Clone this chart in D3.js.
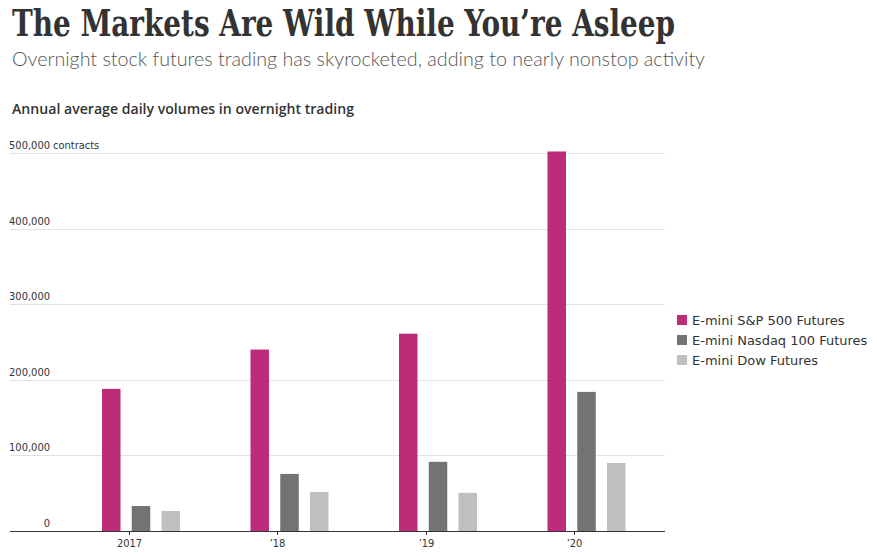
<!DOCTYPE html>
<html><head><meta charset="utf-8">
<script src="https://cdn.jsdelivr.net/npm/d3@7"></script>
<style>body{margin:0;background:#fff}svg{display:block}</style>
</head><body>
<svg id="c" width="877" height="556"></svg>
<script>
const years = ["2017", "’18", "’19", "’20"];
const seriesNames = ["E-mini S&P 500 Futures", "E-mini Nasdaq 100 Futures", "E-mini Dow Futures"];
const sp500 = [188000, 240000, 261000, 502000];
const nasdaq = [33000, 75500, 91500, 184000];
const dow = [26500, 51500, 50500, 90000];
const yTicks = [0, 100000, 200000, 300000, 400000, 500000];
const colors = ["#bd2c79", "#737373", "#bfbfbf"];

(function () {
const svg = d3.select("#c");
const mLeft = 10, mRight = 665, mTop = 153, mBottom = 531;

svg.append("text").attr("x", 12).attr("y", 36)
  .attr("font-family", "'DejaVu Serif Condensed','DejaVu Serif',serif").attr("font-weight", "bold")
  .attr("font-stretch", "condensed")
  .attr("font-size", 37).attr("fill", "#333")
  .attr("textLength", 663).attr("lengthAdjust", "spacingAndGlyphs")
  .text("The Markets Are Wild While You’re Asleep");
svg.append("text").attr("x", 12).attr("y", 66)
  .attr("font-family", "Lato, 'Open Sans', sans-serif").attr("font-weight", 300)
  .attr("font-size", 20).attr("fill", "#555")
  .attr("textLength", 693).attr("lengthAdjust", "spacingAndGlyphs")
  .text("Overnight stock futures trading has skyrocketed, adding to nearly nonstop activity");
svg.append("text").attr("x", 12).attr("y", 114)
  .attr("font-family", "'Open Sans', sans-serif").attr("font-weight", 600)
  .attr("font-size", 14).attr("fill", "#333")
  .attr("textLength", 342).attr("lengthAdjust", "spacingAndGlyphs")
  .text("Annual average daily volumes in overnight trading");

const y = d3.scaleLinear().domain([0, 500000]).range([mBottom, mTop]);
const x0 = d3.scaleBand().domain(years).range([102, 696]).paddingInner(0).paddingOuter(0);
const x1 = d3.scaleBand().domain(d3.range(3)).range([0, 78]).paddingInner(0.378).paddingOuter(0);

svg.append("g").selectAll("line").data(yTicks.filter(d => d > 0)).join("line")
  .attr("x1", mLeft).attr("x2", mRight).attr("y1", d => Math.round(y(d)) + 0.5).attr("y2", d => Math.round(y(d)) + 0.5)
  .attr("stroke", "#e2e2e2").attr("stroke-width", 1);

const fmt = d3.format(",");
const yl = svg.append("g").attr("font-family", "'Liberation Sans Narrow','DejaVu Sans Condensed',sans-serif")
  .attr("font-size", 11).attr("fill", "#333");
yl.selectAll("text").data(yTicks).join("text")
  .attr("x", 50).attr("y", d => y(d) - 4).attr("text-anchor", "end")
  .text(d => fmt(d));
yl.append("text").attr("x", 53).attr("y", y(500000) - 4).text("contracts");

const series = [sp500, nasdaq, dow];
const g = svg.append("g");
years.forEach((yr, i) => {
  series.forEach((s, j) => {
    g.append("rect")
      .attr("x", x0(yr) + x1(j))
      .attr("y", y(s[i]))
      .attr("width", x1.bandwidth())
      .attr("height", y(0) - y(s[i]))
      .attr("fill", colors[j]);
  });
});

svg.append("line").attr("x1", mLeft).attr("x2", mRight).attr("y1", mBottom + 0.5).attr("y2", mBottom + 0.5)
  .attr("stroke", "#333").attr("stroke-width", 1);
const xt = svg.append("g");
years.forEach(yr => {
  const cx = Math.round(x0(yr) + x1(1) - 3) + 0.5;
  xt.append("line").attr("x1", cx).attr("x2", cx).attr("y1", mBottom).attr("y2", mBottom + 4)
    .attr("stroke", "#333");
  xt.append("text").attr("x", cx).attr("y", 547).attr("text-anchor", "middle")
    .attr("font-family", "'Liberation Sans Narrow','DejaVu Sans Condensed',sans-serif")
    .attr("font-size", 11).attr("fill", "#333").text(yr);
});

const lg = svg.append("g").attr("transform", "translate(677,315)");
seriesNames.forEach((n, j) => {
  lg.append("rect").attr("x", 0).attr("y", j * 20).attr("width", 10).attr("height", 10).attr("fill", colors[j]);
  lg.append("text").attr("x", 15).attr("y", j * 20 + 10)
    .attr("font-family", "'DejaVu Sans',sans-serif").attr("font-size", 13).attr("fill", "#333")
    .text(n);
});
})();
</script>
</body></html>
